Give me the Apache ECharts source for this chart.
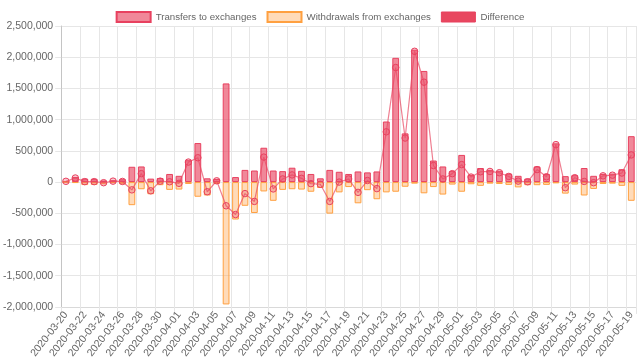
<!DOCTYPE html>
<html>
<head>
<meta charset="utf-8">
<script src="https://cdn.jsdelivr.net/npm/echarts@6/dist/echarts.min.js"></script>
<style>
html,body{margin:0;padding:0;background:#fff;}
#chart{width:640px;height:361px;}
</style>
</head>
<body>
<div id="chart"></div>
<script>
var dates = ["2020-03-20","2020-03-21","2020-03-22","2020-03-23","2020-03-24","2020-03-25","2020-03-26","2020-03-27","2020-03-28","2020-03-29","2020-03-30","2020-03-31",
"2020-04-01","2020-04-02","2020-04-03","2020-04-04","2020-04-05","2020-04-06","2020-04-07","2020-04-08","2020-04-09","2020-04-10","2020-04-11","2020-04-12","2020-04-13","2020-04-14","2020-04-15","2020-04-16","2020-04-17","2020-04-18","2020-04-19","2020-04-20","2020-04-21","2020-04-22","2020-04-23","2020-04-24","2020-04-25","2020-04-26","2020-04-27","2020-04-28","2020-04-29","2020-04-30",
"2020-05-01","2020-05-02","2020-05-03","2020-05-04","2020-05-05","2020-05-06","2020-05-07","2020-05-08","2020-05-09","2020-05-10","2020-05-11","2020-05-12","2020-05-13","2020-05-14","2020-05-15","2020-05-16","2020-05-17","2020-05-18","2020-05-19"];

var transfers = [15000,80000,55000,52000,25000,30000,45000,245000,250000,55000,65000,130000,100000,350000,625000,60000,50000,1580000,80000,195000,185000,550000,185000,175000,230000,180000,130000,60000,195000,165000,130000,170000,155000,170000,970000,1990000,780000,2120000,1780000,345000,250000,175000,435000,115000,225000,195000,180000,135000,100000,55000,250000,130000,620000,95000,110000,225000,100000,130000,135000,205000,735000];

var withdrawals = [-3000,-15000,-48000,-45000,-35000,-15000,-35000,-370000,-115000,-195000,-50000,-125000,-120000,-30000,-235000,-215000,-30000,-1960000,-600000,-380000,-495000,-150000,-300000,-125000,-115000,-120000,-155000,-95000,-505000,-165000,-80000,-340000,-130000,-275000,-165000,-155000,-75000,-25000,-180000,-80000,-200000,-40000,-155000,-35000,-60000,-25000,-30000,-45000,-85000,-50000,-50000,-45000,-20000,-185000,-40000,-215000,-110000,-30000,-25000,-60000,-300000];

var difference = [12000,65000,7000,7000,-10000,15000,10000,-125000,135000,-140000,15000,5000,-20000,320000,390000,-155000,20000,-380000,-520000,-185000,-310000,400000,-110000,50000,115000,60000,-25000,-35000,-310000,0,50000,-165000,25000,-105000,805000,1835000,705000,2095000,1600000,265000,50000,135000,280000,80000,165000,170000,150000,90000,15000,5000,200000,85000,600000,-90000,70000,10000,-10000,100000,110000,145000,435000];

var yMin = -2000000, yMax = 2500000, yStep = 500000;

var FONT = '"Liberation Sans", Arial, Helvetica, sans-serif';
var chart = echarts.init(document.getElementById('chart'), null, {renderer:'canvas'});
chart.setOption({
  animation:false,
  textStyle:{fontFamily:FONT},
  legend:{
    top:6, left:'center',
    itemWidth:34, itemHeight:10, itemGap:10,
    textStyle:{fontSize:9.7, color:'#666', fontFamily:FONT},
    data:[
      {name:'Transfers to exchanges', icon:'rect'},
      {name:'Withdrawals from exchanges', icon:'rect'},
      {name:'Difference', icon:'rect', itemStyle:{color:'#e8475f', borderColor:'#e8415f', borderWidth:1}}
    ]
  },
  grid:{left:58, right:4, top:26, bottom:49, containLabel:false},
  xAxis:{
    type:'category', data:dates, boundaryGap:true,
    axisLine:{show:true, onZero:false, lineStyle:{color:'#d9d9d9'}},
    axisTick:{show:true, interval:1, length:7, lineStyle:{color:'#e6e6e6'}},
    splitLine:{show:true, interval:1, lineStyle:{color:'#e6e6e6'}},
    axisLabel:{interval:1, rotate:52, margin:6, fontSize:10.5, color:'#666', fontFamily:FONT}
  },
  yAxis:{
    type:'value', min:yMin, max:yMax, interval:yStep,
    axisLine:{show:true, lineStyle:{color:'#c4c4c4'}},
    axisTick:{show:true, length:6, lineStyle:{color:'#e6e6e6'}},
    splitLine:{show:true, lineStyle:{color:'#e6e6e6'}},
    axisLabel:{margin:8, fontSize:10.5, color:'#666', fontFamily:FONT,
      formatter:function(v){ return v.toLocaleString('en-US'); }}
  },
  series:[
    {name:'Transfers to exchanges', type:'bar', stack:'flow', data:transfers, barWidth:'72%',
      itemStyle:{color:'rgba(232,72,98,0.65)', borderColor:'#e8415f', borderWidth:1}},
    {name:'Withdrawals from exchanges', type:'bar', stack:'flow', data:withdrawals, barWidth:'72%',
      itemStyle:{color:'rgba(255,165,80,0.4)', borderColor:'#ffa040', borderWidth:1}},
    {name:'Difference', type:'line', data:difference, z:5,
      symbol:'circle', symbolSize:6.5, showAllSymbol:true,
      lineStyle:{color:'rgba(232,72,98,0.7)', width:1.2},
      itemStyle:{color:'rgba(232,72,98,0.3)', borderColor:'#e8415f', borderWidth:1}}
  ]
});
</script>
</body>
</html>
